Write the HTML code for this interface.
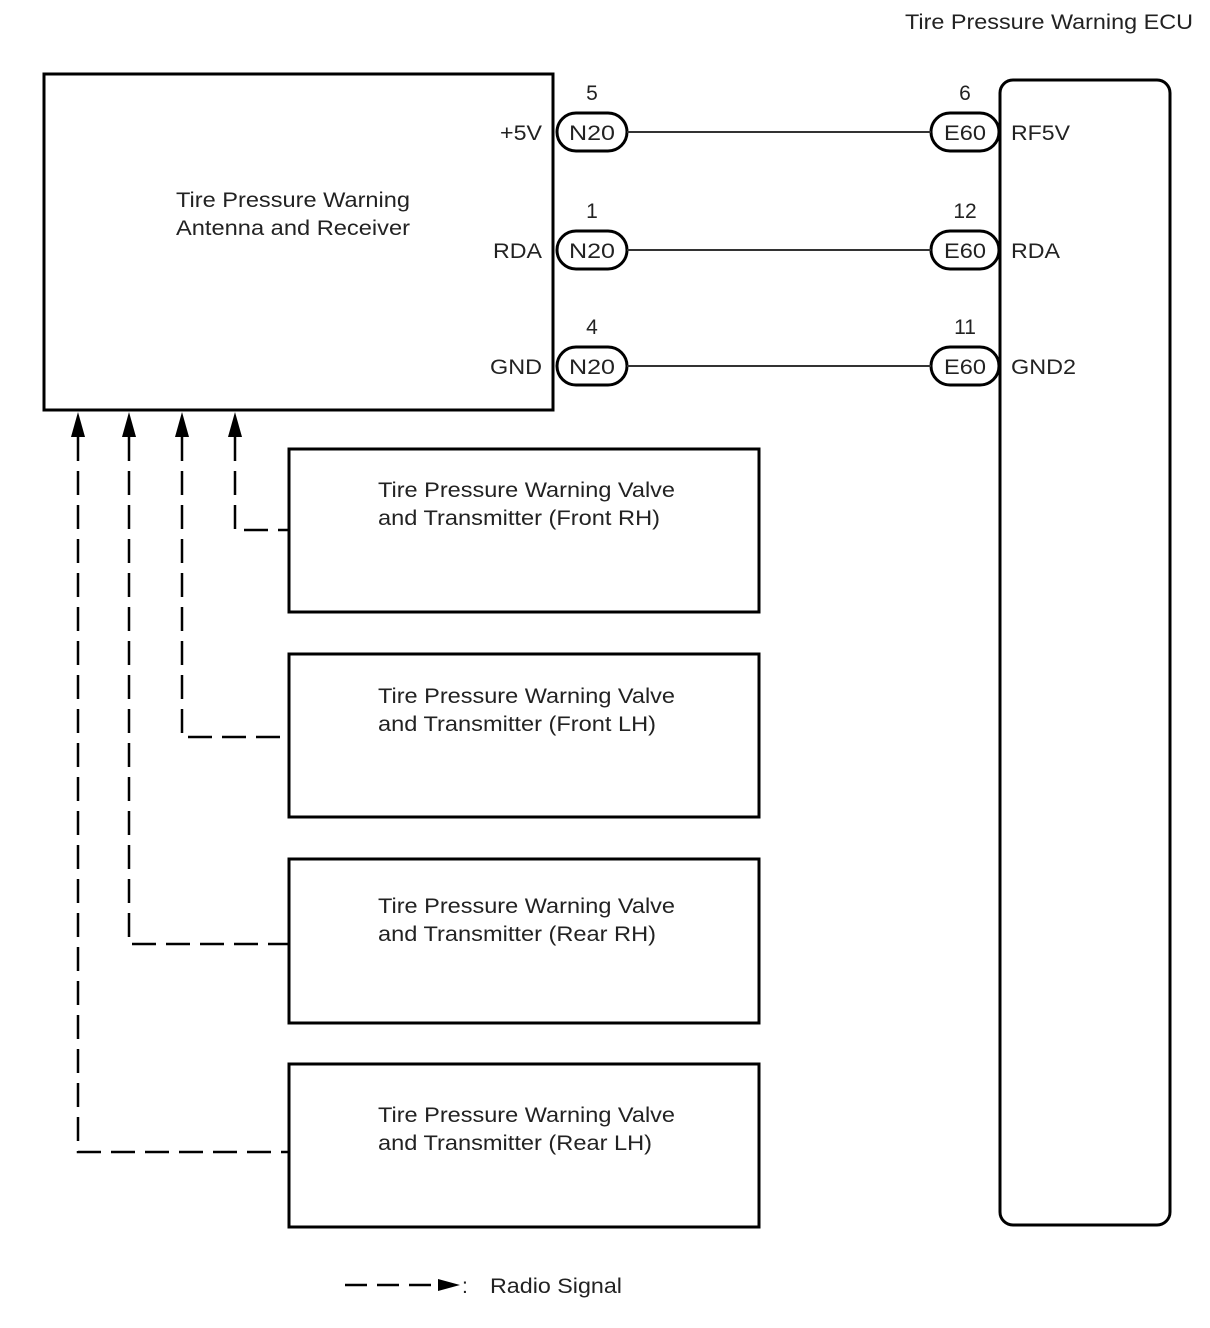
<!DOCTYPE html>
<html><head><style>body{margin:0;background:#fff}svg{display:block}text{font-family:"Liberation Sans",sans-serif;font-size:21px;fill:#222}</style></head>
<body>
<svg width="1210" height="1328" viewBox="0 0 1210 1328" xmlns="http://www.w3.org/2000/svg">
<text x="905" y="29" textLength="288" lengthAdjust="spacingAndGlyphs">Tire Pressure Warning ECU</text>
<rect x="44" y="74" width="509" height="336" fill="none" stroke="#000" stroke-width="3"/>
<text x="176" y="207" textLength="234" lengthAdjust="spacingAndGlyphs">Tire Pressure Warning</text>
<text x="176" y="235" textLength="234" lengthAdjust="spacingAndGlyphs">Antenna and Receiver</text>
<rect x="1000" y="80" width="170" height="1145" rx="13" fill="none" stroke="#000" stroke-width="3"/>
<g stroke="#000" fill="none" stroke-width="3">
<rect x="557" y="113" width="70" height="38" rx="19"/>
<rect x="557" y="231" width="70" height="38" rx="19"/>
<rect x="557" y="347" width="70" height="38" rx="19"/>
<rect x="931" y="113" width="68" height="38" rx="19"/>
<rect x="931" y="231" width="68" height="38" rx="19"/>
<rect x="931" y="347" width="68" height="38" rx="19"/>
</g>
<g stroke="#333" stroke-width="2">
<line x1="627" y1="132" x2="931" y2="132"/>
<line x1="627" y1="250" x2="931" y2="250"/>
<line x1="627" y1="366" x2="931" y2="366"/>
</g>
<g text-anchor="middle">
<text x="592" y="140" textLength="46" lengthAdjust="spacingAndGlyphs">N20</text><text x="592" y="258" textLength="46" lengthAdjust="spacingAndGlyphs">N20</text><text x="592" y="374" textLength="46" lengthAdjust="spacingAndGlyphs">N20</text>
<text x="965" y="140" textLength="42" lengthAdjust="spacingAndGlyphs">E60</text><text x="965" y="258" textLength="42" lengthAdjust="spacingAndGlyphs">E60</text><text x="965" y="374" textLength="42" lengthAdjust="spacingAndGlyphs">E60</text>
<text x="592" y="100">5</text><text x="592" y="218">1</text><text x="592" y="334">4</text>
<text x="965" y="100">6</text><text x="965" y="218">12</text><text x="965" y="334">11</text>
</g>
<text x="500" y="140" textLength="42" lengthAdjust="spacingAndGlyphs">+5V</text>
<text x="493" y="258" textLength="49" lengthAdjust="spacingAndGlyphs">RDA</text>
<text x="490" y="374" textLength="52" lengthAdjust="spacingAndGlyphs">GND</text>
<text x="1011" y="140" textLength="59" lengthAdjust="spacingAndGlyphs">RF5V</text>
<text x="1011" y="258" textLength="49" lengthAdjust="spacingAndGlyphs">RDA</text>
<text x="1011" y="374" textLength="65" lengthAdjust="spacingAndGlyphs">GND2</text>
<g fill="none" stroke="#000" stroke-width="3">
<rect x="289" y="449" width="470" height="163"/>
<rect x="289" y="654" width="470" height="163"/>
<rect x="289" y="859" width="470" height="164"/>
<rect x="289" y="1064" width="470" height="163"/>
</g>
<g>
<text x="378" y="497" textLength="297" lengthAdjust="spacingAndGlyphs">Tire Pressure Warning Valve</text><text x="378" y="525" textLength="282" lengthAdjust="spacingAndGlyphs">and Transmitter (Front RH)</text>
<text x="378" y="703" textLength="297" lengthAdjust="spacingAndGlyphs">Tire Pressure Warning Valve</text><text x="378" y="731" textLength="278" lengthAdjust="spacingAndGlyphs">and Transmitter (Front LH)</text>
<text x="378" y="913" textLength="297" lengthAdjust="spacingAndGlyphs">Tire Pressure Warning Valve</text><text x="378" y="941" textLength="278" lengthAdjust="spacingAndGlyphs">and Transmitter (Rear RH)</text>
<text x="378" y="1122" textLength="297" lengthAdjust="spacingAndGlyphs">Tire Pressure Warning Valve</text><text x="378" y="1150" textLength="274" lengthAdjust="spacingAndGlyphs">and Transmitter (Rear LH)</text>
</g>
<g fill="none" stroke="#000" stroke-width="2.5" stroke-dasharray="24,10">
<polyline points="235,437 235,530 289,530"/>
<polyline points="182,437 182,737 289,737"/>
<polyline points="129,437 129,944 289,944"/>
<polyline points="78,437 78,1152 289,1152"/>
</g>
<g fill="#000">
<polygon points="235,412 228,437 242,437"/>
<polygon points="182,412 175,437 189,437"/>
<polygon points="129,412 122,437 136,437"/>
<polygon points="78,412 71,437 85,437"/>
<polygon points="460,1285 438,1279 438,1291"/>
</g>
<line x1="345" y1="1285" x2="440" y2="1285" stroke="#000" stroke-width="2.5" stroke-dasharray="22,10"/>
<text x="462" y="1293">:</text>
<text x="490" y="1293" textLength="132" lengthAdjust="spacingAndGlyphs">Radio Signal</text>
</svg>
</body></html>
